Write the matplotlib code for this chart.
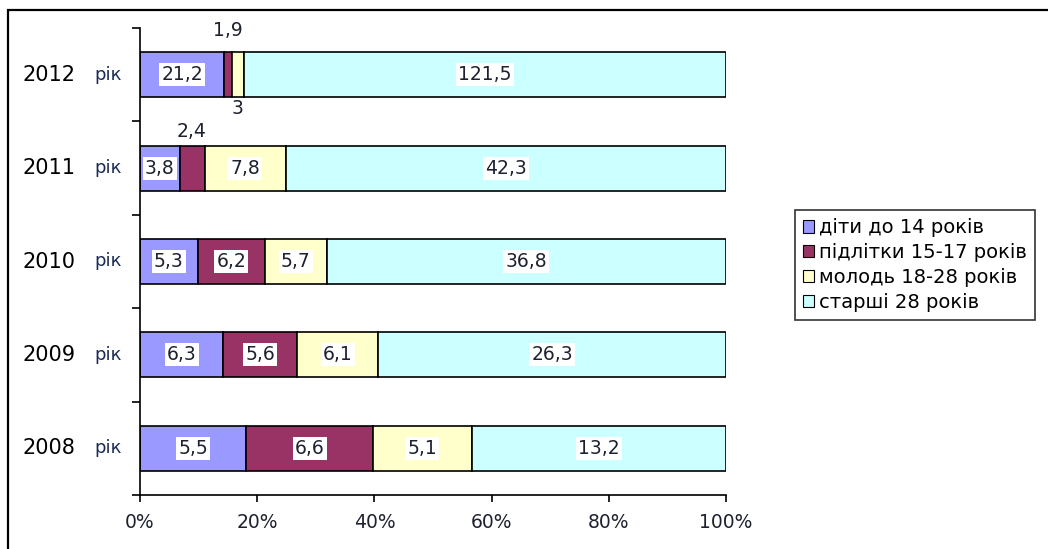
import numpy as np
import matplotlib.pyplot as plt
from matplotlib.patches import Rectangle

years = ['2008', '2009', '2010', '2011', '2012']
suffix = 'рік'
series = ['діти до 14 років', 'підлітки 15-17 років', 'молодь 18-28 років', 'старші 28 років']
children = [5.5, 6.3, 5.3, 3.8, 21.2]
teens = [6.6, 5.6, 6.2, 2.4, 1.9]
youth = [5.1, 6.1, 5.7, 7.8, 3.0]
older = [13.2, 26.3, 36.8, 42.3, 121.5]
colors = ['#9999FF', '#993366', '#FFFFCC', '#CCFFFF']
xticks = [0, 20, 40, 60, 80, 100]

# labels that sit outside the bar: (year index, series index) -> offset from bar edge
outside = {(4, 1): 0.13, (4, 2): -0.02, (3, 1): 0.05}

plt.rcParams['font.family'] = ['DejaVu Sans']
fig = plt.figure(figsize=(10.48, 5.49), dpi=100)
ax = fig.add_axes([140 / 1048, 1 - 495 / 549, 586 / 1048, 467 / 549])

# outer frame (only top/left edges visible in reference)
fig.patches.append(Rectangle((8 / 1048, -0.1), 1.2, 1 - 10 / 549 + 0.1, transform=fig.transFigure,
                             fill=False, edgecolor='black', linewidth=1.6))

data = np.array([children, teens, youth, older])
totals = data.sum(axis=0)
pct = data / totals * 100
y = np.arange(len(years))
bh = 0.48
txt_color = '#1e2230'
fs = 13.5

left = np.zeros(len(years))
for s in range(len(series)):
    ax.barh(y, pct[s], height=bh, left=left, color=colors[s], edgecolor='black',
            linewidth=1.2, label=series[s])
    for i in range(len(years)):
        val = ('%g' % data[s, i]).replace('.', ',')
        cx = left[i] + pct[s, i] / 2
        off = outside.get((i, s))
        if off is not None and off > 0:
            ax.text(cx, y[i] + bh / 2 + off, val, ha='center', va='bottom', fontsize=fs, color=txt_color)
        elif off is not None:
            ax.text(cx, y[i] - bh / 2 + off, val, ha='center', va='top', fontsize=fs, color=txt_color)
        else:
            ax.text(cx, y[i], val, ha='center', va='center', fontsize=fs, color=txt_color,
                    bbox=dict(facecolor='white', edgecolor='none', pad=1.5))
    left += pct[s]

ax.set_xlim(0, 100)
ax.set_ylim(-0.5, len(years) - 0.5)
ax.set_xticks(xticks)
ax.set_xticklabels(['%d%%' % t for t in xticks], fontsize=fs, color=txt_color)
ax.set_yticks(y)
ax.set_yticklabels([])
ax.tick_params(axis='y', which='major', length=0)
ax.set_yticks(np.arange(-0.5, len(years)), minor=True)
ax.tick_params(axis='y', which='minor', length=6, width=1.2, direction='out')
ax.tick_params(axis='x', length=5, width=1.2, direction='out', pad=8)
for sp in ['top', 'right']:
    ax.spines[sp].set_visible(False)
for sp in ['left', 'bottom']:
    ax.spines[sp].set_linewidth(1.2)

tr = ax.get_yaxis_transform()
for i, yr in enumerate(years):
    ax.text(-0.11, y[i], yr, transform=tr, ha='right', va='center', fontsize=15, color='black')
    ax.text(-0.078, y[i], suffix, transform=tr, ha='left', va='center', fontsize=13, color='#1a2a55')

leg = ax.legend(loc='center left', bbox_to_anchor=(795 / 1048, 1 - 265 / 549),
                bbox_transform=fig.transFigure, fontsize=14, frameon=True, fancybox=False,
                handlelength=0.6, handleheight=0.6, handletextpad=0.25, labelspacing=0.3,
                borderpad=0.4, borderaxespad=0)
leg.get_frame().set_edgecolor('black')
leg.get_frame().set_linewidth(1.2)
for h in leg.legend_handles:
    h.set_linewidth(0.8)

fig.savefig('out.png', dpi=100)
